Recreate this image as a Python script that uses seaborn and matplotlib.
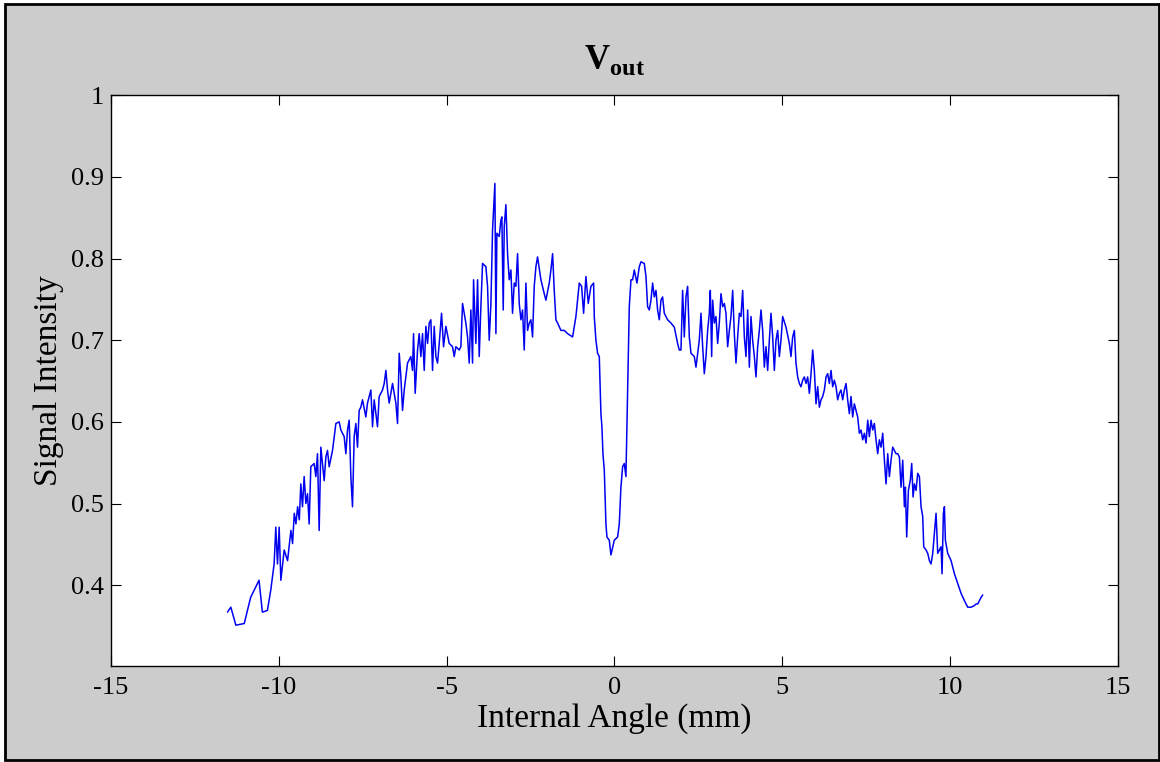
import numpy as np
import matplotlib
matplotlib.use("Agg")
import matplotlib.pyplot as plt
import pandas as pd
import seaborn as sns
from matplotlib.patches import Rectangle

# values (internal angle in mm, signal intensity)
angle_mm = [
    -11.53, -11.43, -11.28, -11.03, -10.84, -10.59, -10.49, -10.34, -10.24, -10.14,
    -10.09, -10.04, -9.99, -9.94, -9.84, -9.74, -9.64, -9.59, -9.54, -9.49,
    -9.44, -9.39, -9.345, -9.295, -9.245, -9.195, -9.145, -9.096, -9.047, -8.947,
    -8.897, -8.848, -8.798, -8.748, -8.649, -8.599, -8.55, -8.50, -8.40, -8.30,
    -8.202, -8.152, -8.053, -8.003, -7.954, -7.904, -7.854, -7.805, -7.755, -7.705,
    -7.656, -7.606, -7.556, -7.507, -7.407, -7.358, -7.258, -7.208, -7.159, -7.06,
    -7.01,
    -6.91, -6.86, -6.81, -6.761, -6.712, -6.612, -6.513, -6.463, -6.413, -6.364,
    -6.314, -6.264, -6.165, -6.066, -6.016, -5.986, -5.937, -5.867, -5.817, -5.768,
    -5.718, -5.668, -5.619, -5.569, -5.519, -5.47, -5.42, -5.37, -5.321, -5.271,
    -5.221, -5.152, -5.092, -5.023, -4.923, -4.824, -4.774, -4.725, -4.625, -4.576,
    -4.526, -4.427, -4.377, -4.327, -4.278, -4.228, -4.198, -4.129, -4.079, -4.029,
    -3.98, -3.93, -3.83, -3.781, -3.731, -3.681, -3.632, -3.562, -3.532, -3.503,
    -3.433, -3.383, -3.354, -3.314, -3.284, -3.234, -3.185, -3.135, -3.085, -3.036,
    -2.986, -2.936, -2.887, -2.837, -2.787, -2.738, -2.688, -2.638, -2.589, -2.539,
    -2.489, -2.44, -2.39, -2.34, -2.291,
    -2.191, -2.092, -2.042, -1.943, -1.893, -1.843, -1.794, -1.744, -1.694, -1.595,
    -1.496, -1.396, -1.247, -1.148, -1.048, -0.979, -0.919, -0.85, -0.78, -0.701,
    -0.621, -0.601, -0.552, -0.502, -0.452, -0.403, -0.373, -0.343, -0.303, -0.254,
    -0.224, -0.154, -0.105, -0.005, 0.094, 0.144, 0.193, 0.243, 0.293, 0.342,
    0.392, 0.442, 0.492, 0.541, 0.591, 0.67, 0.74, 0.79, 0.889, 0.939,
    0.988, 1.038, 1.088, 1.137, 1.187, 1.237, 1.286, 1.336, 1.386, 1.435,
    1.485, 1.535, 1.584, 1.684, 1.783, 1.882, 1.932, 1.982, 2.031, 2.081,
    2.131, 2.18, 2.23, 2.28, 2.379, 2.429, 2.528,
    2.578, 2.628, 2.677, 2.727, 2.777, 2.826, 2.856, 2.896, 2.926, 2.975,
    3.025, 3.075, 3.124, 3.174, 3.224, 3.274, 3.323, 3.373, 3.423, 3.472,
    3.522, 3.572, 3.621, 3.671, 3.721, 3.77, 3.82, 3.87, 3.919, 3.969,
    4.019, 4.068, 4.118, 4.168, 4.217, 4.267, 4.317, 4.366, 4.416, 4.466,
    4.515, 4.565, 4.615, 4.664, 4.714, 4.764, 4.813, 4.863, 4.913, 4.962,
    5.012, 5.111, 5.211, 5.26, 5.31, 5.36, 5.409, 5.459, 5.509, 5.558,
    5.608, 5.658, 5.708, 5.757, 5.807, 5.857, 5.906, 5.956, 6.006, 6.055,
    6.105, 6.155, 6.204, 6.254, 6.304, 6.353, 6.403, 6.453, 6.502, 6.552,
    6.602, 6.651, 6.701, 6.751, 6.8, 6.85, 6.9, 6.949, 6.999, 7.049,
    7.098, 7.148, 7.198, 7.247, 7.297,
    7.347, 7.397, 7.446, 7.496, 7.546, 7.595, 7.645, 7.695, 7.744, 7.794,
    7.844, 7.893, 7.943, 7.993, 8.043, 8.092, 8.142, 8.192, 8.241, 8.291,
    8.341, 8.39, 8.44, 8.49, 8.539, 8.589, 8.639, 8.668, 8.708, 8.758,
    8.817, 8.857, 8.897, 8.937, 8.986, 9.036, 9.086, 9.135, 9.185, 9.215,
    9.284, 9.334, 9.384, 9.433, 9.483, 9.533, 9.582, 9.632, 9.682, 9.731,
    9.761, 9.801, 9.831, 9.86, 9.93, 10.03, 10.129, 10.228, 10.327, 10.427,
    10.526, 10.626, 10.725, 10.775, 10.824, 10.874, 10.924, 10.973,
]

signal = [
    0.367, 0.373, 0.351, 0.353, 0.385, 0.406, 0.367, 0.369, 0.394, 0.426,
    0.471, 0.426, 0.471, 0.406, 0.443, 0.430, 0.467, 0.451, 0.488, 0.475,
    0.496, 0.480, 0.524, 0.496, 0.533, 0.500, 0.512, 0.475, 0.545, 0.549,
    0.533, 0.561, 0.467, 0.569, 0.528, 0.557, 0.565, 0.545, 0.565, 0.598,
    0.600, 0.590, 0.582, 0.561, 0.590, 0.602, 0.533, 0.496, 0.582, 0.598,
    0.569, 0.614, 0.618, 0.627, 0.606, 0.623, 0.639, 0.594, 0.627, 0.594,
    0.631,
    0.639, 0.647, 0.663, 0.639, 0.623, 0.647, 0.623, 0.598, 0.684, 0.655,
    0.614, 0.639, 0.672, 0.680, 0.663, 0.708, 0.635, 0.688, 0.708, 0.680,
    0.708, 0.663, 0.717, 0.696, 0.721, 0.725, 0.663, 0.717, 0.680, 0.672,
    0.696, 0.733, 0.692, 0.717, 0.696, 0.692, 0.680, 0.692, 0.688, 0.692,
    0.745, 0.721, 0.704, 0.672, 0.737, 0.672, 0.774, 0.696, 0.774, 0.680,
    0.741, 0.794, 0.790, 0.766, 0.700, 0.745, 0.835, 0.892, 0.708, 0.831,
    0.827, 0.847, 0.851, 0.737, 0.839, 0.866, 0.806, 0.774, 0.786, 0.733,
    0.770, 0.766, 0.806, 0.745, 0.725, 0.737, 0.688, 0.770, 0.712, 0.721,
    0.725, 0.704, 0.766, 0.790, 0.802,
    0.774, 0.757, 0.749, 0.770, 0.786, 0.806, 0.761, 0.725, 0.721, 0.712,
    0.712, 0.708, 0.704, 0.729, 0.770, 0.766, 0.733, 0.778, 0.745, 0.766,
    0.770, 0.729, 0.700, 0.684, 0.680, 0.610, 0.594, 0.561, 0.541, 0.475,
    0.459, 0.455, 0.437, 0.455, 0.459, 0.475, 0.520, 0.545, 0.549, 0.533,
    0.639, 0.741, 0.774, 0.774, 0.786, 0.770, 0.790, 0.796, 0.794, 0.778,
    0.741, 0.737, 0.749, 0.770, 0.753, 0.761, 0.737, 0.725, 0.749, 0.753,
    0.733, 0.729, 0.725, 0.721, 0.716, 0.696, 0.688, 0.688, 0.761, 0.704,
    0.753, 0.766, 0.704, 0.684, 0.680, 0.667, 0.700,
    0.733, 0.692, 0.659, 0.680, 0.712, 0.733, 0.761, 0.680, 0.749, 0.721,
    0.729, 0.696, 0.721, 0.757, 0.741, 0.745, 0.733, 0.692, 0.712, 0.729,
    0.761, 0.708, 0.672, 0.704, 0.733, 0.729, 0.761, 0.704, 0.680, 0.737,
    0.667, 0.729, 0.700, 0.680, 0.655, 0.692, 0.712, 0.737, 0.712, 0.667,
    0.692, 0.663, 0.700, 0.733, 0.704, 0.663, 0.700, 0.712, 0.680, 0.700,
    0.729, 0.716, 0.696, 0.680, 0.704, 0.712, 0.672, 0.655, 0.647, 0.643,
    0.651, 0.655, 0.647, 0.655, 0.635, 0.659, 0.688, 0.663, 0.622, 0.643,
    0.618, 0.627, 0.631, 0.639, 0.655, 0.659, 0.647, 0.663, 0.643, 0.651,
    0.643, 0.627, 0.635, 0.639, 0.627, 0.639, 0.647, 0.627, 0.610, 0.631,
    0.606, 0.622, 0.614, 0.606, 0.586,
    0.590, 0.578, 0.586, 0.574, 0.602, 0.582, 0.602, 0.590, 0.598, 0.578,
    0.561, 0.578, 0.569, 0.586, 0.553, 0.524, 0.561, 0.533, 0.553, 0.569,
    0.565, 0.561, 0.561, 0.557, 0.520, 0.553, 0.496, 0.520, 0.459, 0.516,
    0.529, 0.549, 0.508, 0.524, 0.516, 0.537, 0.533, 0.496, 0.484, 0.447,
    0.443, 0.439, 0.430, 0.426, 0.439, 0.463, 0.488, 0.439, 0.443, 0.447,
    0.414, 0.488, 0.496, 0.455, 0.439, 0.430, 0.414, 0.402, 0.390, 0.381,
    0.373, 0.373, 0.375, 0.377, 0.377, 0.381, 0.385, 0.388,
]

x_ticks = [-15, -10, -5, 0, 5, 10, 15]
y_ticks = [0.4, 0.5, 0.6, 0.7, 0.8, 0.9, 1.0]
y_tick_labels = ["0.4", "0.5", "0.6", "0.7", "0.8", "0.9", "1"]

df = pd.DataFrame({"angle": angle_mm, "signal": signal})

sns.set_style("ticks")
plt.rcParams["font.family"] = ["Liberation Serif", "DejaVu Serif"]
plt.rcParams["mathtext.fontset"] = "custom"
plt.rcParams["mathtext.rm"] = "Liberation Serif"
plt.rcParams["mathtext.bf"] = "Liberation Serif:bold"
plt.rcParams["axes.unicode_minus"] = False
plt.rcParams["text.color"] = "black"
plt.rcParams["axes.labelcolor"] = "black"

fig = plt.figure(figsize=(11.6, 7.62), dpi=100, facecolor="white")
# grey matlab-style figure panel with a black frame
fig.patches.append(Rectangle((0.0043, 0.0026), 0.9945, 0.992, transform=fig.transFigure,
                             facecolor="#cccccc", edgecolor="black", linewidth=2, zorder=0))

ax = fig.add_axes([0.0957, 0.126, 0.868, 0.749])
ax.set_zorder(2)
ax.set_facecolor("white")

sns.lineplot(data=df, x="angle", y="signal", ax=ax, color="#0000f0",
             linewidth=1.1, sort=False, estimator=None)

ax.set_xlim(-15, 15)
ax.set_ylim(0.301, 1.0)
ax.set_xticks(x_ticks)
ax.set_xticklabels([str(t) for t in x_ticks])
ax.set_yticks(y_ticks)
ax.set_yticklabels(y_tick_labels)
ax.tick_params(direction="in", length=7, width=0.8, top=True, right=True,
               labelsize=19, colors="black")
ax.tick_params(axis="x", pad=8)
ax.tick_params(axis="y", pad=5)
for side in ax.spines.values():
    side.set_linewidth(1.0)
    side.set_color("black")

ax.set_xlabel("Internal Angle (mm)", fontsize=24)
ax.set_ylabel("Signal Intensity", fontsize=24)
ax.xaxis.set_label_coords(0.5, -0.065)
ax.yaxis.set_label_coords(-0.047, 0.5)
ax.set_title(r"$\mathbf{V}_{\mathbf{out}}$", fontsize=25, pad=19)

fig.savefig("out.png", dpi=100, facecolor=fig.get_facecolor())
